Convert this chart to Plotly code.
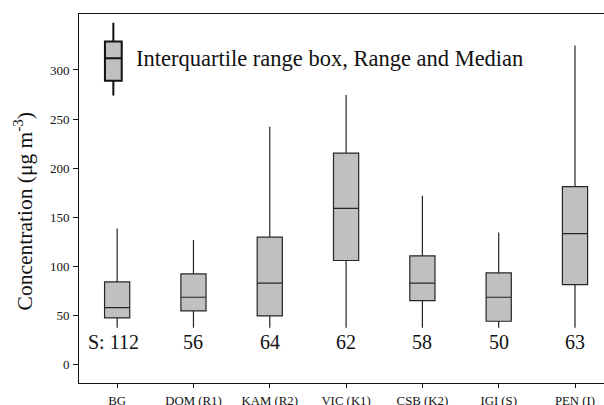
import plotly.graph_objects as go

sites = ["BG", "DOM (R1)", "KAM (R2)", "VIC (K1)", "CSB (K2)", "IGI (S)", "PEN (I)"]
counts = ["S: 112", "56", "64", "62", "58", "50", "63"]
q1 = [47.3, 54.4, 49.3, 105.8, 65.0, 43.9, 81.3]
median = [57.8, 68.4, 82.7, 158.9, 82.7, 68.4, 133.2]
q3 = [84.0, 92.1, 129.6, 215.3, 110.5, 93.2, 181.0]
low = [37.4, 37.4, 37.4, 37.4, 37.4, 37.4, 37.4]
high = [138.4, 126.8, 242.0, 274.5, 171.7, 134.4, 325.0]

legend_box = dict(q1=289, median=312, q3=329, low=274, high=348)
legend_text = "Interquartile range box, Range and Median"
y_title = "Concentration (μg m<sup>-3</sup>)"

positions = list(range(len(sites)))
font = "Liberation Serif"

fig = go.Figure()
fig.add_trace(go.Box(
    x=positions, q1=q1, median=median, q3=q3,
    lowerfence=low, upperfence=high,
    fillcolor="#c0c0c0", line=dict(color="#262626", width=1.2),
    whiskerwidth=0, width=0.33, boxpoints=False, hoverinfo="skip",
    showlegend=False,
))
fig.add_trace(go.Box(
    x=[-0.05], q1=[legend_box["q1"]], median=[legend_box["median"]], q3=[legend_box["q3"]],
    lowerfence=[legend_box["low"]], upperfence=[legend_box["high"]],
    fillcolor="#c0c0c0", line=dict(color="#111111", width=2),
    whiskerwidth=0, width=0.22, boxpoints=False, hoverinfo="skip",
    showlegend=False,
))

fig.add_annotation(x=0.22, y=312, xref="x", yref="y", text=legend_text,
                   showarrow=False, xanchor="left", yanchor="middle",
                   font=dict(family=font, size=22.5, color="#111"))
for i, c in enumerate(counts):
    xi = i - 0.05 if i == 0 else i
    fig.add_annotation(x=xi, y=23, xref="x", yref="y", text=c, showarrow=False,
                       xanchor="center", yanchor="middle",
                       font=dict(family=font, size=20, color="#111"))

fig.add_annotation(x=-0.1067, y=0.465, xref="paper", yref="paper", text=y_title,
                   showarrow=False, textangle=-90, xanchor="center", yanchor="middle",
                   font=dict(family=font, size=21.5, color="#111"))

fig.update_layout(
    width=604, height=405,
    margin=dict(l=79, r=0, t=14, b=22, autoexpand=False),
    plot_bgcolor="white", paper_bgcolor="white",
    font=dict(family=font, color="#111"),
    xaxis=dict(range=[-0.5, 6.38], tickmode="array", tickvals=positions, ticktext=sites,
               showline=True, linecolor="#111", linewidth=1, mirror=True,
               ticks="outside", ticklen=4, tickcolor="#111", showgrid=False,
               zeroline=False, tickfont=dict(family=font, size=12.8, color="#111"),
               ticklabelstandoff=2, automargin=False),
    yaxis=dict(range=[-19, 357], tickvals=[0, 50, 100, 150, 200, 250, 300],
               showline=True, linecolor="#111", linewidth=1, mirror=False,
               ticks="outside", ticklen=5, tickcolor="#111", showgrid=False,
               zeroline=False, tickfont=dict(family=font, size=13, color="#111"),
               ticklabelstandoff=1, automargin=False),
)

fig.write_html("out.html")
